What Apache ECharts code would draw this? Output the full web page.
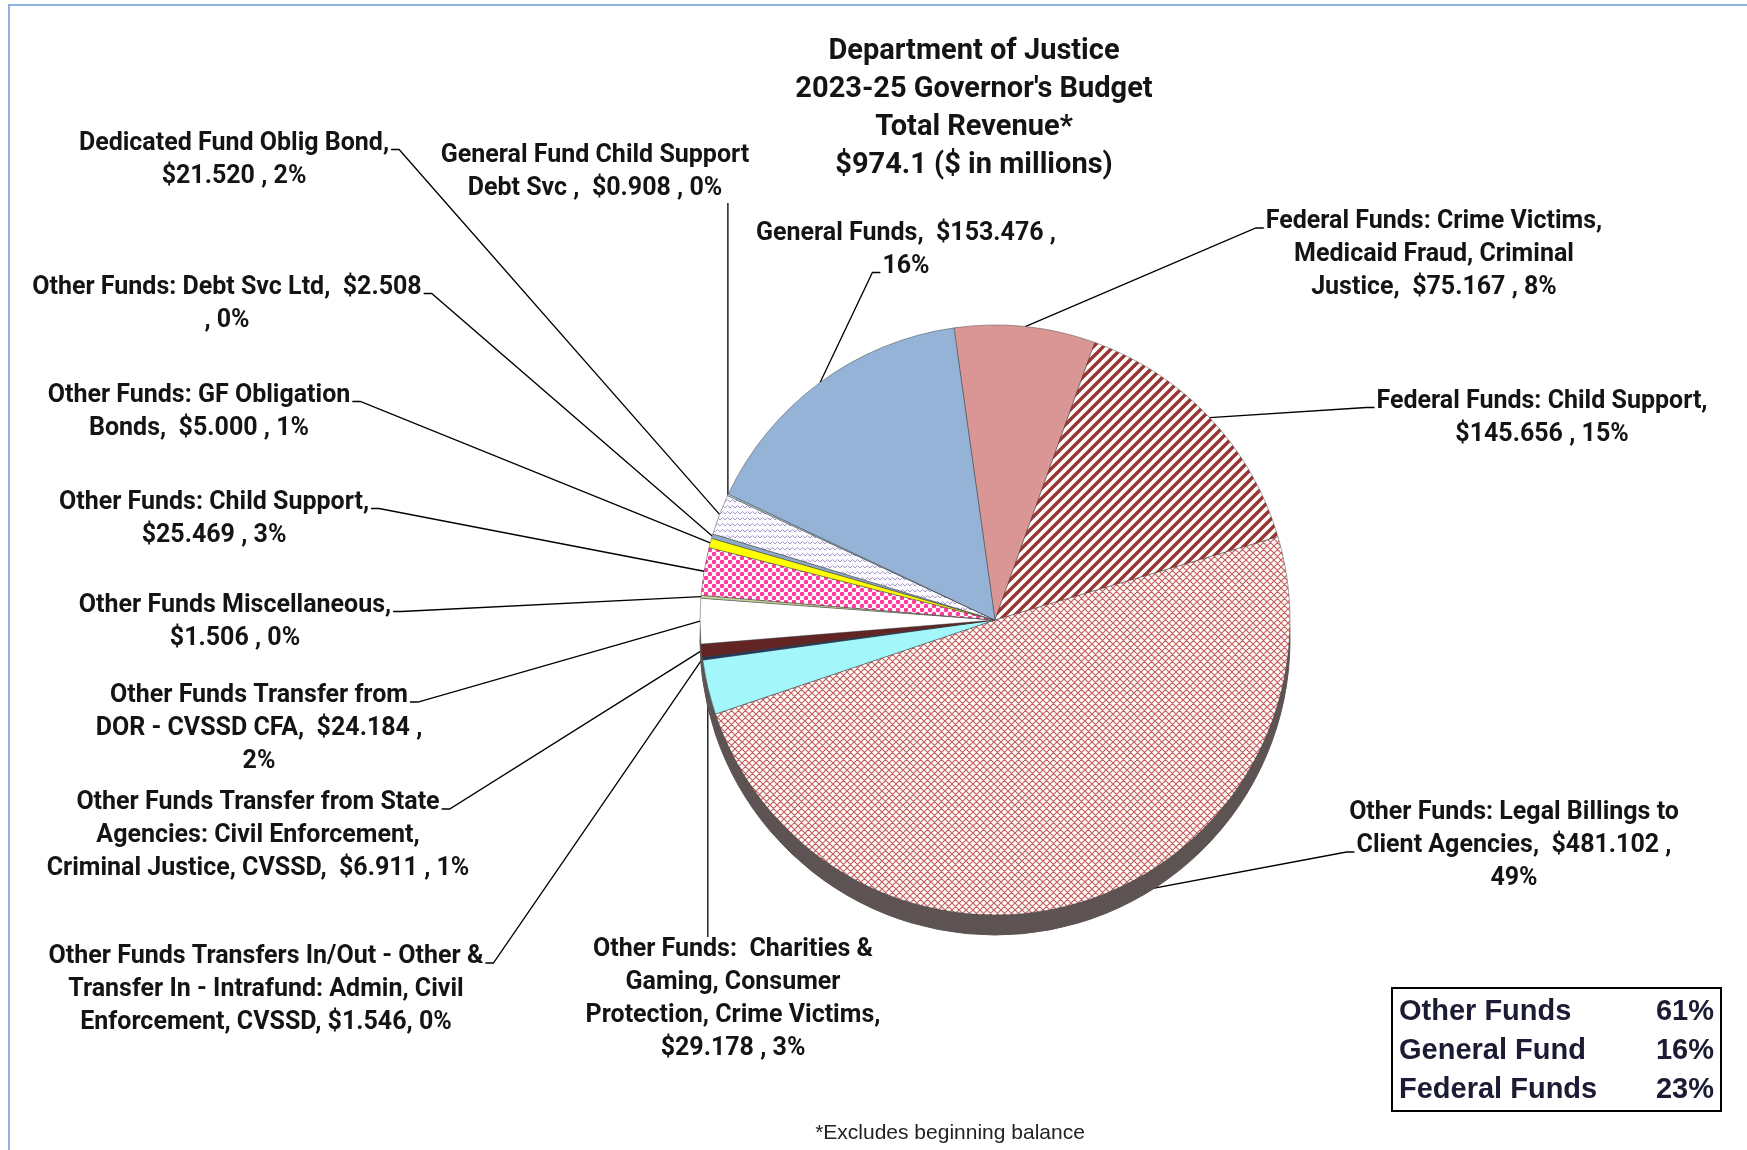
<!DOCTYPE html>
<html>
<head>
<meta charset="utf-8">
<title>Department of Justice 2023-25 Governor's Budget</title>
<script src="https://cdn.jsdelivr.net/npm/echarts@6/dist/echarts.min.js"></script>
<style>
  html, body { margin: 0; padding: 0; background: #fff; }
  #chart { width: 1747px; height: 1150px; }
</style>
</head>
<body>
<div id="chart"></div>
<script>
// ---- data ($ in millions) ----
const titleLines = ['Department of Justice', "2023-25 Governor's Budget", 'Total Revenue*', '$974.1 ($ in millions)'];

// slices in clockwise order, starting at the top
const categories = [
  'Federal Funds: Crime Victims,\nMedicaid Fraud, Criminal\nJustice',
  'Federal Funds: Child Support',
  'Other Funds: Legal Billings to\nClient Agencies',
  'Other Funds:  Charities &\nGaming, Consumer\nProtection, Crime Victims',
  'Other Funds Transfers In/Out - Other &\nTransfer In - Intrafund: Admin, Civil\nEnforcement, CVSSD',
  'Other Funds Transfer from State\nAgencies: Civil Enforcement,\nCriminal Justice, CVSSD',
  'Other Funds Transfer from\nDOR - CVSSD CFA',
  'Other Funds Miscellaneous',
  'Other Funds: Child Support',
  'Other Funds: GF Obligation\nBonds',
  'Other Funds: Debt Svc Ltd',
  'Dedicated Fund Oblig Bond',
  'General Fund Child Support\nDebt Svc',
  'General Funds'
];
const values = [75.167, 145.656, 481.102, 29.178, 1.546, 6.911, 24.184, 1.506, 25.469, 5.000, 2.508, 21.520, 0.908, 153.476];

// how each data label is worded / wrapped
const labelTemplates = [
  '{n},  ${v} , {p}%',
  '{n},\n${v} , {p}%',
  '{n},  ${v} ,\n{p}%',
  '{n},\n${v} , {p}%',
  '{n}, ${v}, {p}%',
  '{n},  ${v} , {p}%',
  '{n},  ${v} ,\n{p}%',
  '{n},\n${v} , {p}%',
  '{n},\n${v} , {p}%',
  '{n},  ${v} , {p}%',
  '{n},  ${v}\n, {p}%',
  '{n},\n${v} , {p}%',
  '{n} ,  ${v} , {p}%',
  '{n},  ${v} ,\n{p}%'
];

const summaryGroups = ['Other Funds', 'General Fund', 'Federal Funds'];
const summaryShares = ['61%', '16%', '23%'];
const footnote = '*Excludes beginning balance';

// ---- layout: label block centres and where the leader line meets the text ----
const labelCenters = [
  [1434, 255], [1542, 418], [1514, 846], [733, 999], [266, 990], [258, 836], [259, 729],
  [235, 622], [214, 519], [199, 412], [227, 304], [234, 160], [595, 172], [906, 250]
];
const labelAnchors = ['l1', 'l1', 'l2', 't', 'r1', 'r1', 'r1', 'r1', 'r1', 'r1', 'r1', 'r1', 'b', 'l2'];

const LABEL_FONT = "Roboto, 'Liberation Sans', sans-serif";
const LABEL_SIZE = 25;
const LINE_H = 33;
const PIE_CENTER = [995, 620];
const PIE_R = 295;
const WALL = 20;

function pattern(w, h, draw) {
  const c = document.createElement('canvas');
  c.width = w; c.height = h;
  draw(c.getContext('2d'), w, h);
  return { image: c, repeat: 'repeat' };
}

const hatch = pattern(10, 10, g => {
  g.fillStyle = '#fff'; g.fillRect(0, 0, 10, 10);
  g.strokeStyle = '#983633'; g.lineWidth = 3.4;
  g.beginPath();
  g.moveTo(-5, 15); g.lineTo(15, -5);
  g.moveTo(-5, 5); g.lineTo(5, -5);
  g.moveTo(5, 15); g.lineTo(15, 5);
  g.stroke();
});
const lattice = pattern(7, 7, g => {
  g.fillStyle = '#fff'; g.fillRect(0, 0, 7, 7);
  g.strokeStyle = '#c65f5b'; g.lineWidth = 1.2;
  g.beginPath();
  g.moveTo(-3.5, 10.5); g.lineTo(10.5, -3.5);
  g.moveTo(-3.5, 3.5); g.lineTo(3.5, -3.5);
  g.moveTo(3.5, 10.5); g.lineTo(10.5, 3.5);
  g.moveTo(-3.5, -3.5); g.lineTo(10.5, 10.5);
  g.moveTo(-3.5, 3.5); g.lineTo(3.5, 10.5);
  g.moveTo(3.5, -3.5); g.lineTo(10.5, 3.5);
  g.stroke();
});
const dots = pattern(8, 8, g => {
  g.fillStyle = '#fff'; g.fillRect(0, 0, 8, 8);
  g.fillStyle = '#ff3fa0';
  [[2, 2], [6, 6]].forEach(p => { g.beginPath(); g.arc(p[0], p[1], 2.3, 0, Math.PI * 2); g.fill(); });
});
const wave = pattern(10, 6, g => {
  g.fillStyle = '#fbfaff'; g.fillRect(0, 0, 10, 6);
  g.strokeStyle = '#a99bd0'; g.lineWidth = 1;
  g.beginPath();
  g.moveTo(0, 4); g.lineTo(2.5, 1.5); g.lineTo(5, 4); g.lineTo(7.5, 1.5); g.lineTo(10, 4);
  g.stroke();
});

const fills = [
  '#d99694', hatch, lattice, '#a3f6fa', '#1f3864', '#632523', '#ffffff',
  '#c3d69b', dots, '#ffff00', '#8ea9c8', wave, '#b7dee8', '#95b3d7'
];

function labelText(i, percent) {
  return labelTemplates[i]
    .replace('{n}', categories[i])
    .replace('{v}', values[i].toFixed(3))
    .replace('{p}', String(Math.round(percent)));
}

const measureCtx = document.createElement('canvas').getContext('2d');
measureCtx.font = 'bold ' + LABEL_SIZE + 'px ' + LABEL_FONT;
function lineWidth(s) { return measureCtx.measureText(s).width; }

const chart = echarts.init(document.getElementById('chart'));

const option = {
  backgroundColor: '#fff',
  animation: false,
  title: {
    text: titleLines.join('\n'),
    left: 969,
    top: 28,
    textAlign: 'center',
    textStyle: {
      fontFamily: LABEL_FONT,
      fontWeight: 'bold',
      fontSize: 29,
      lineHeight: 38,
      color: '#141414'
    }
  },
  graphic: [
    {
      type: 'rect', silent: true,
      shape: { x: 9, y: 5, width: 1800, height: 1200 },
      style: { fill: 'none', stroke: '#8db3e2', lineWidth: 2 }
    },
    {
      type: 'rect', silent: true,
      shape: { x: 1392, y: 988, width: 329, height: 123 },
      style: { fill: '#fff', stroke: '#000', lineWidth: 2 }
    }
  ].concat(summaryGroups.map((g, i) => ({
    type: 'text', silent: true, x: 1399, y: 1012 + i * 39,
    style: { text: g, font: "bold 29px 'Liberation Sans', Arial, sans-serif", fill: '#1b1b33', align: 'left', verticalAlign: 'middle' }
  }))).concat(summaryShares.map((s, i) => ({
    type: 'text', silent: true, x: 1714, y: 1012 + i * 39,
    style: { text: s, font: "bold 29px 'Liberation Sans', Arial, sans-serif", fill: '#1b1b33', align: 'right', verticalAlign: 'middle' }
  }))).concat([{
    type: 'text', silent: true, x: 950, y: 1133,
    style: { text: footnote, font: "21px 'Liberation Sans', Arial, sans-serif", fill: '#222', align: 'center', verticalAlign: 'middle' }
  }]),
  series: [
    {
      // side wall of the tilted pie
      type: 'pie',
      silent: true,
      center: [PIE_CENTER[0], PIE_CENTER[1] + WALL],
      radius: PIE_R,
      startAngle: 98,
      label: { show: false },
      labelLine: { show: false },
      itemStyle: { color: '#5e5353', borderColor: '#5e5353', borderWidth: 1 },
      data: values.map((v, i) => ({ name: categories[i], value: v }))
    },
    {
      type: 'pie',
      center: PIE_CENTER,
      radius: PIE_R,
      startAngle: 98,
      avoidLabelOverlap: false,
      emphasis: { scale: false },
      itemStyle: { borderColor: 'rgba(60,60,60,0.55)', borderWidth: 0.8 },
      label: {
        show: true,
        position: 'outside',
        fontFamily: LABEL_FONT,
        fontWeight: 'bold',
        fontSize: LABEL_SIZE,
        lineHeight: LINE_H,
        color: '#141414',
        formatter: p => labelText(p.dataIndex, p.percent)
      },
      labelLine: { show: true, length: 10, length2: 10, lineStyle: { color: '#000', width: 1.3 } },
      labelLayout: p => {
        const i = p.dataIndex;
        const c = labelCenters[i];
        const lines = p.text.split('\n');
        const h = lines.length * LINE_H;
        const top = c[1] - h / 2;
        const rim = p.labelLinePoints ? p.labelLinePoints[0] : [c[0], c[1]];
        let pts;
        const a = labelAnchors[i];
        if (a === 'r1') {
          const x = c[0] + lineWidth(lines[0]) / 2 + 2, y = top + LINE_H / 2 + 6;
          pts = [rim, [x + 8, y], [x, y]];
        } else if (a === 'l1') {
          const x = c[0] - lineWidth(lines[0]) / 2 - 2, y = top + LINE_H / 2 + 6;
          pts = [rim, [x - 8, y], [x, y]];
        } else if (a === 'l2') {
          const x = c[0] - lineWidth(lines[1]) / 2 - 2, y = top + LINE_H * 1.5 + 6;
          pts = [rim, [x - 8, y], [x, y]];
        } else if (a === 't') {
          pts = [rim, [rim[0], top + 4]];
        } else {
          pts = [rim, [rim[0], top + h - 2]];
        }
        return { x: c[0], y: c[1], align: 'center', verticalAlign: 'middle', labelLinePoints: pts };
      },
      data: values.map((v, i) => ({ name: categories[i], value: v, itemStyle: { color: fills[i] } }))
    }
  ]
};

chart.setOption(option);
</script>
</body>
</html>
